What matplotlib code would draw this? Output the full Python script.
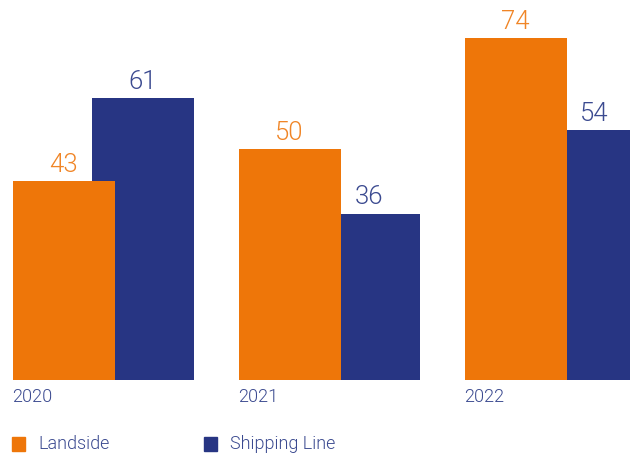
import matplotlib.pyplot as plt
from matplotlib.patches import Rectangle
from matplotlib.transforms import blended_transform_factory
import numpy as np

years = ["2020", "2021", "2022"]
landside = [43, 50, 74]
shipping = [61, 36, 54]
series_names = ["Landside", "Shipping Line"]

ORANGE = "#EE7609"
NAVY = "#273583"
TEXT_NAVY = "#3B4A90"
TEXT_ORANGE = "#F08526"

plt.rcParams['font.family'] = ['Roboto', 'DejaVu Sans']
W = 300  # light

fig = plt.figure(figsize=(6.3, 4.54), dpi=100)
ax = fig.add_axes([0, 74 / 454, 1, 380 / 454])

x = np.arange(len(years))
width = 102 / 226
offset = 79 / 226

# navy first so the orange bar sits on top where they overlap
b2 = ax.bar(x + offset, shipping, width, color=NAVY, zorder=1)
b1 = ax.bar(x, landside, width, color=ORANGE, zorder=2)

for bars, vals, col in [(b1, landside, TEXT_ORANGE), (b2, shipping, TEXT_NAVY)]:
    for r, v in zip(bars, vals):
        ax.annotate(str(v), (r.get_x() + r.get_width() / 2, v),
                    xytext=(0, 3), textcoords="offset points",
                    ha="center", va="bottom", fontsize=18.5,
                    fontweight=W, color=col)

trans = blended_transform_factory(ax.transData, ax.transAxes)
for xi, yr in zip(x, years):
    ax.text(xi - width / 2, -0.02, yr, transform=trans, ha="left", va="top",
            fontsize=13, fontweight=W, color=TEXT_NAVY)

ax.set_xlim(-63.5 / 226, (630 - 63.5) / 226)
ax.set_ylim(0, 380 / (342 / 74))
ax.axis("off")

# legend
for lx, name, col in [(12, series_names[0], ORANGE), (204, series_names[1], NAVY)]:
    fig.patches.append(Rectangle((lx / 630, 3 / 454), 13 / 630, 14 / 454,
                                 transform=fig.transFigure, color=col))
    fig.text((lx + 26) / 630, 10 / 454, name, ha="left", va="center",
             fontsize=13, fontweight=W, color=TEXT_NAVY)

fig.savefig("out.png", dpi=100)
